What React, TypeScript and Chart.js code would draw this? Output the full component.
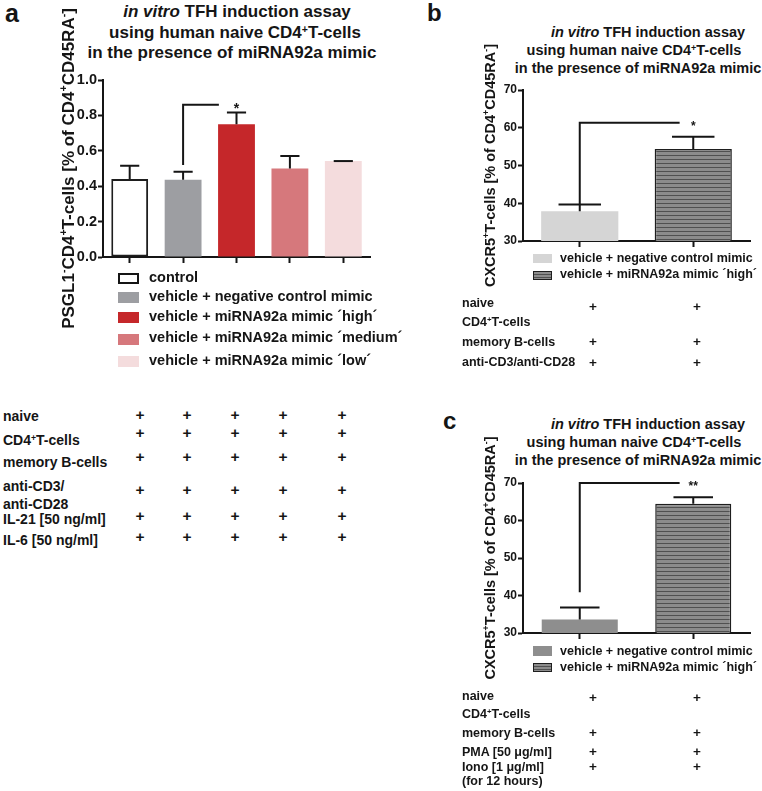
import React, { useEffect, useRef } from "react";
import { Chart, registerables } from "chart.js";
Chart.register(...registerables);

const FONT = "'Liberation Sans', Arial, Helvetica, sans-serif";
const INK = "#151515";

// ---------- Panel a data ----------
const categoriesA = [
  "control",
  "vehicle + negative control mimic",
  "vehicle + miRNA92a mimic ´high´",
  "vehicle + miRNA92a mimic ´medium´",
  "vehicle + miRNA92a mimic ´low´",
];
const valuesA = [0.44, 0.437, 0.75, 0.5, 0.542];
const errorsA = [0.075, 0.045, 0.067, 0.071, 0];
const colorsA = ["#ffffff", "#9d9ea2", "#c5272a", "#d6787c", "#f4dcdd"];
const bordersA = [2, 0, 0, 0, 0];
const bracketA = { from: 1, to: 2, end: 1.67, base: 0.52, top: 0.86, label: "*" };
const conditionsA = ["naive", "CD4+T-cells", "memory B-cells", "anti-CD3/anti-CD28", "IL-21 [50 ng/ml]", "IL-6 [50 ng/ml]"];

// ---------- Panel b data ----------
const categoriesB = ["vehicle + negative control mimic", "vehicle + miRNA92a mimic ´high´"];
const valuesB = [37.9, 54.4];
const errorsB = [1.8, 3.2];
const colorsB = ["#d5d5d5", "stripes"];
const bordersB = [0, 1.5];
const bracketB = { from: 0, to: 1, end: 0.88, base: 39.7, top: 61.3, label: "*" };

// ---------- Panel c data ----------
const categoriesC = ["vehicle + negative control mimic", "vehicle + miRNA92a mimic ´high´"];
const valuesC = [33.6, 64.5];
const errorsC = [3.2, 1.7];
const colorsC = ["#8e8e8e", "stripes"];
const bordersC = [0, 1.5];
const bracketC = { from: 0, to: 1, end: 0.88, base: 40.9, top: 70, label: "**" };

type Seg = { t: string; sup?: boolean };
const titleA: Seg[] = [
  { t: "PSGL1" }, { t: "-", sup: true }, { t: "CD4" }, { t: "+", sup: true },
  { t: "T-cells [% of CD4" }, { t: "+", sup: true }, { t: "CD45RA" }, { t: "-", sup: true }, { t: "]" },
];
const titleBC: Seg[] = [
  { t: "CXCR5" }, { t: "+", sup: true }, { t: "T-cells [% of CD4" }, { t: "+", sup: true },
  { t: "CD45RA" }, { t: "-", sup: true }, { t: "]" },
];

function stripePattern(ctx: CanvasRenderingContext2D) {
  const c = document.createElement("canvas");
  c.width = 8;
  c.height = 4;
  const g = c.getContext("2d")!;
  g.fillStyle = "#8c8c8c";
  g.fillRect(0, 0, 8, 4);
  g.fillStyle = "#505050";
  g.fillRect(0, 3, 8, 1);
  return ctx.createPattern(c, "repeat");
}

const errorBarPlugin = {
  id: "errorBars",
  afterDatasetsDraw(chart: any, _a: any, o: any) {
    const meta = chart.getDatasetMeta(0);
    const y = chart.scales.y;
    const ctx = chart.ctx;
    const data = chart.data.datasets[0].data;
    ctx.save();
    ctx.strokeStyle = INK;
    ctx.lineWidth = 2;
    meta.data.forEach((bar: any, i: number) => {
      const v = data[i];
      const e = o.errors[i];
      const yb = y.getPixelForValue(v);
      const yt = y.getPixelForValue(v + e);
      const half = (bar.width * o.capRatio) / 2;
      ctx.beginPath();
      if (e > 0) {
        ctx.moveTo(bar.x, yb);
        ctx.lineTo(bar.x, yt);
      }
      ctx.moveTo(bar.x - half, yt);
      ctx.lineTo(bar.x + half, yt);
      ctx.stroke();
    });
    ctx.restore();
  },
};

const bracketPlugin = {
  id: "bracket",
  afterDatasetsDraw(chart: any, _a: any, o: any) {
    const x = chart.scales.x;
    const y = chart.scales.y;
    const ctx = chart.ctx;
    const x0 = x.getPixelForValue(o.from);
    const x1 = x.getPixelForValue(o.end);
    const yb = y.getPixelForValue(o.base);
    const yt = y.getPixelForValue(o.top);
    ctx.save();
    ctx.strokeStyle = INK;
    ctx.lineWidth = 2;
    ctx.beginPath();
    ctx.moveTo(x0, yb);
    ctx.lineTo(x0, yt);
    ctx.lineTo(x1, yt);
    ctx.stroke();
    ctx.fillStyle = INK;
    ctx.font = `bold ${o.size}px ${FONT}`;
    ctx.textAlign = "center";
    ctx.textBaseline = "alphabetic";
    ctx.fillText(o.label, x.getPixelForValue(o.to), yt + 0.57 * o.size);
    ctx.restore();
  },
};

const richTitlePlugin = {
  id: "richYTitle",
  afterDraw(chart: any, _a: any, o: any) {
    const { ctx, chartArea } = chart;
    const size = o.size;
    const x = chartArea.left - o.offset;
    const cy = (chartArea.top + chartArea.bottom) / 2;
    ctx.save();
    ctx.translate(x, cy);
    ctx.rotate(-Math.PI / 2);
    ctx.fillStyle = INK;
    ctx.textAlign = "left";
    ctx.textBaseline = "alphabetic";
    const segs: Seg[] = o.segments;
    const widths = segs.map((s) => {
      ctx.font = `bold ${s.sup ? size * 0.62 : size}px ${FONT}`;
      return ctx.measureText(s.t).width;
    });
    const total = widths.reduce((a, b) => a + b, 0);
    let cx = -total / 2;
    const base = size * 0.36;
    segs.forEach((s, i) => {
      ctx.font = `bold ${s.sup ? size * 0.62 : size}px ${FONT}`;
      ctx.fillText(s.t, cx, s.sup ? base - size * 0.4 : base);
      cx += widths[i];
    });
    ctx.restore();
  },
};

type PanelProps = {
  left: number; top: number; width: number; height: number;
  labels: string[]; values: number[]; errors: number[]; colors: string[]; borders: number[];
  yMin: number; yMax: number; yStep: number; decimals: number; tickSize: number; tickLen: number;
  pad: { left: number; right: number; top: number; bottom: number }; yWidth: number;
  barPct: number; capRatio: number; title: Seg[]; titleSize: number; titleOffset: number;
  bracket: any; starSize: number;
};

function BarPanel(p: PanelProps) {
  const ref = useRef<HTMLCanvasElement>(null);
  useEffect(() => {
    const canvas = ref.current!;
    const ctx = canvas.getContext("2d")!;
    const pattern = stripePattern(ctx);
    const bg = p.colors.map((c) => (c === "stripes" ? pattern : c));
    const chart = new Chart(canvas, {
      type: "bar",
      data: {
        labels: p.labels,
        datasets: [
          {
            data: p.values,
            backgroundColor: bg as any,
            borderColor: "#1e1e1e",
            borderWidth: p.borders,
            borderSkipped: false,
            barPercentage: p.barPct,
            categoryPercentage: 1,
          },
        ],
      },
      options: {
        animation: false,
        responsive: false,
        maintainAspectRatio: false,
        layout: { padding: p.pad },
        plugins: {
          legend: { display: false },
          tooltip: { enabled: false },
          errorBars: { errors: p.errors, capRatio: p.capRatio },
          bracket: { ...p.bracket, size: p.starSize },
          richYTitle: { segments: p.title, size: p.titleSize, offset: p.titleOffset },
        } as any,
        scales: {
          x: {
            type: "category",
            grid: { offset: false, drawOnChartArea: false, drawTicks: true, tickLength: 6, tickWidth: 2, tickColor: INK } as any,
            border: { display: true, color: INK, width: 2 },
            ticks: { display: false },
            afterFit: (s: any) => { s.height = 10; },
          },
          y: {
            min: p.yMin,
            max: p.yMax,
            grid: { drawOnChartArea: false, drawTicks: true, tickLength: p.tickLen, tickWidth: 2, tickColor: INK } as any,
            border: { display: true, color: INK, width: 2 },
            ticks: {
              stepSize: p.yStep,
              padding: 1,
              color: INK,
              font: { family: FONT, size: p.tickSize, weight: "bold" },
              callback: (v: any) => Number(v).toFixed(p.decimals),
            },
            afterFit: (s: any) => { s.width = p.yWidth; },
          },
        },
      },
      plugins: [errorBarPlugin, bracketPlugin, richTitlePlugin],
    });
    return () => chart.destroy();
  }, []);
  return (
    <canvas
      ref={ref}
      width={p.width}
      height={p.height}
      style={{ position: "absolute", left: p.left, top: p.top, width: p.width, height: p.height }}
    />
  );
}

const Sup = ({ c }: { c: string }) => (
  <sup style={{ fontSize: "0.62em", verticalAlign: "0.5em", lineHeight: 0 }}>{c}</sup>
);

function renderLabel(s: string) {
  const parts = s.split(/(\+)(?=T)/);
  return parts.map((pt, i) => (pt === "+" ? <Sup key={i} c="+" /> : <span key={i}>{pt}</span>));
}

const Txt = ({ x, base, size, center, children }: any) => (
  <div
    style={{
      position: "absolute",
      left: x,
      top: base - 0.947 * size,
      fontSize: size,
      lineHeight: 1.2,
      fontWeight: 700,
      whiteSpace: "nowrap",
      transform: center ? "translateX(-50%)" : undefined,
      fontFamily: FONT,
      color: INK,
    }}
  >
    {children}
  </div>
);

const Box = ({ x, y, w, h, bg, border }: any) => (
  <div
    style={{
      position: "absolute", left: x, top: y, width: w, height: h, boxSizing: "border-box",
      background: bg, border: border || "none",
    }}
  />
);

const STRIPES = "repeating-linear-gradient(to bottom, #8c8c8c 0px, #8c8c8c 2px, #505050 2px, #505050 3px)";

function Title({ cx, bases, size }: { cx: number[]; bases: number[]; size: number }) {
  return (
    <>
      <Txt x={cx[0]} base={bases[0]} size={size} center>
        <i>in vitro</i> TFH induction assay
      </Txt>
      <Txt x={cx[1]} base={bases[1]} size={size} center>
        using human naive CD4<Sup c="+" />T-cells
      </Txt>
      <Txt x={cx[2]} base={bases[2]} size={size} center>
        in the presence of miRNA92a mimic
      </Txt>
    </>
  );
}

export default function App() {
  useEffect(() => {
    document.body.style.margin = "0";
  }, []);

  const aLabelBases = [421.5, 445, 467.5, 491.5, 509, 524, 545];
  const aLabelTexts = ["naive", "CD4+T-cells", "memory B-cells", "anti-CD3/", "anti-CD28", conditionsA[4], conditionsA[5]];
  const aPlusBases = [420.5, 438.5, 462.5, 496, 522, 542.5];
  const aPlusX = [140, 187, 235, 283, 342];

  const legendA = [
    { bg: colorsA[0], border: "2px solid #151515", y: 273, base: 282.7 },
    { bg: colorsA[1], y: 292, base: 301.7 },
    { bg: colorsA[2], y: 312, base: 321.7 },
    { bg: colorsA[3], y: 334, base: 343 },
    { bg: colorsA[4], y: 356, base: 365.7 },
  ];

  return (
    <div style={{ position: "absolute", left: 0, top: 0, width: 762, height: 791, background: "#fff", overflow: "hidden", fontFamily: FONT }}>
      {/* Panel a */}
      <Txt x={5} base={22} size={25}>a</Txt>
      <Title cx={[237, 235, 232]} bases={[18, 39.5, 59]} size={17} />
      <BarPanel
        left={0} top={0} width={380} height={345}
        labels={categoriesA} values={valuesA} errors={errorsA} colors={colorsA} borders={bordersA}
        yMin={0} yMax={1} yStep={0.2} decimals={1} tickSize={14.5} tickLen={5}
        pad={{ left: 58, right: 10, top: 80, bottom: 78 }} yWidth={45}
        barPct={0.69} capRatio={0.52} title={titleA} titleSize={17} titleOffset={35}
        bracket={bracketA} starSize={14}
      />
      {legendA.map((l, i) => (
        <React.Fragment key={i}>
          <Box x={118} y={l.y} w={21} h={11} bg={l.bg} border={l.border} />
          <Txt x={149} base={l.base} size={14.5}>{categoriesA[i]}</Txt>
        </React.Fragment>
      ))}
      {aLabelTexts.map((t, i) => (
        <Txt key={i} x={3} base={aLabelBases[i]} size={14}>{renderLabel(t)}</Txt>
      ))}
      {aPlusBases.map((b, r) =>
        aPlusX.map((x, c) => (
          <Txt key={r + "-" + c} x={x} base={b} size={15.5} center>+</Txt>
        ))
      )}

      {/* Panel b */}
      <Txt x={427} base={22} size={24}>b</Txt>
      <Title cx={[648, 634, 638]} bases={[37.5, 56, 73.3]} size={14.5} />
      <BarPanel
        left={380} top={0} width={382} height={300}
        labels={categoriesB} values={valuesB} errors={errorsB} colors={colorsB} borders={bordersB}
        yMin={30} yMax={70} yStep={10} decimals={0} tickSize={12} tickLen={5}
        pad={{ left: 100, right: 12, top: 90, bottom: 49 }} yWidth={43}
        barPct={0.68} capRatio={0.55} title={titleBC} titleSize={14.5} titleOffset={33}
        bracket={bracketB} starSize={12}
      />
      <Box x={533} y={254} w={19} h={9} bg={colorsB[0]} />
      <Txt x={560} base={263.3} size={12.5}>{categoriesB[0]}</Txt>
      <Box x={533} y={271} w={19} h={9} bg={STRIPES} border="1.5px solid #1e1e1e" />
      <Txt x={560} base={279.3} size={12.5}>{categoriesB[1]}</Txt>
      {["naive", "CD4+T-cells", "memory B-cells", "anti-CD3/anti-CD28"].map((t, i) => (
        <Txt key={i} x={462} base={[308.3, 326.7, 347, 366.7][i]} size={12.5}>{renderLabel(t)}</Txt>
      ))}
      {[311.5, 346.5, 367.5].map((b, r) =>
        [593, 697].map((x, c) => (
          <Txt key={"b" + r + c} x={x} base={b} size={13.5} center>+</Txt>
        ))
      )}

      {/* Panel c */}
      <Txt x={443} base={430} size={24}>c</Txt>
      <Title cx={[648, 634, 638]} bases={[430, 448, 465.5]} size={14.5} />
      <BarPanel
        left={380} top={380} width={382} height={330}
        labels={categoriesC} values={valuesC} errors={errorsC} colors={colorsC} borders={bordersC}
        yMin={30} yMax={70} yStep={10} decimals={0} tickSize={12} tickLen={5}
        pad={{ left: 100, right: 12, top: 103, bottom: 67 }} yWidth={43}
        barPct={0.67} capRatio={0.52} title={titleBC} titleSize={14.5} titleOffset={33}
        bracket={bracketC} starSize={12}
      />
      <Box x={533} y={646} w={19} h={10} bg={colorsC[0]} />
      <Txt x={560} base={656} size={12.5}>{categoriesC[0]}</Txt>
      <Box x={533} y={663} w={19} h={9} bg={STRIPES} border="1.5px solid #1e1e1e" />
      <Txt x={560} base={672} size={12.5}>{categoriesC[1]}</Txt>
      {["naive", "CD4+T-cells", "memory B-cells", "PMA [50 μg/ml]", "Iono [1 μg/ml]", "(for 12 hours)"].map((t, i) => (
        <Txt key={i} x={462} base={[700.7, 719, 738.3, 756.5, 772, 786][i]} size={12.5}>{renderLabel(t)}</Txt>
      ))}
      {[703, 738, 756.5, 771.5].map((b, r) =>
        [593, 697].map((x, c) => (
          <Txt key={"c" + r + c} x={x} base={b} size={13.5} center>+</Txt>
        ))
      )}
    </div>
  );
}
